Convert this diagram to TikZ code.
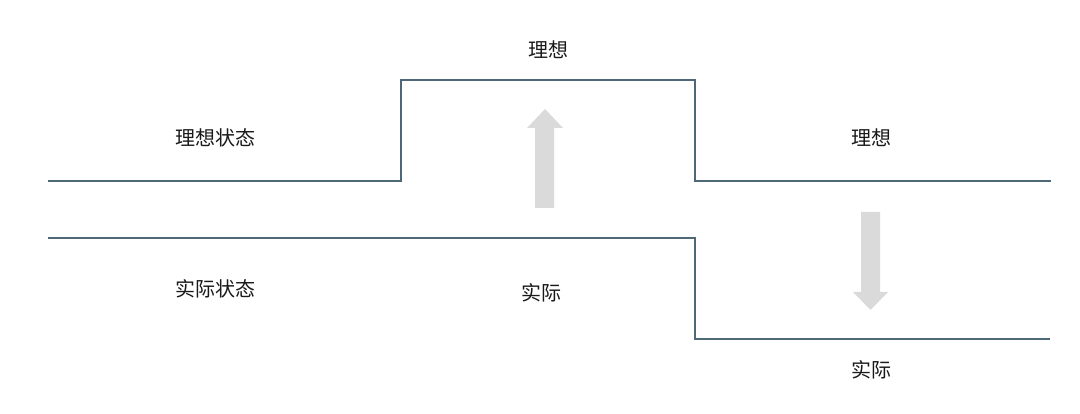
\documentclass[tikz,border=0pt]{standalone}
\usepackage{fontspec}
\newfontfamily\cjk{Noto Sans CJK SC}
\definecolor{linec}{RGB}{78,104,120}
\definecolor{arrowc}{RGB}{218,218,218}
\definecolor{textc}{RGB}{25,25,25}
\begin{document}
\begin{tikzpicture}[x=1pt,y=-1pt,
  lbl/.style={font=\cjk\fontsize{20}{22}\selectfont, text=textc, inner sep=0pt},
  level/.style={draw=linec, line width=2pt, line join=miter},
  bigarrow/.style={fill=arrowc, draw=none}]
\useasboundingbox (0,0) rectangle (1080,414);
% ideal line
\coordinate (i0) at (48,181);
\coordinate (i1) at (401,181);
\coordinate (i2) at (401,80);
\coordinate (i3) at (695,80);
\coordinate (i4) at (695,181);
\coordinate (i5) at (1051,181);
\draw[level] (i0) -- (i1) -- (i2) -- (i3) -- (i4) -- (i5);
% actual line
\coordinate (a0) at (48,238);
\coordinate (a1) at (695,238);
\coordinate (a2) at (695,339);
\coordinate (a3) at (1050,339);
\draw[level] (a0) -- (a1) -- (a2) -- (a3);
% arrows
\fill[bigarrow] (535,208) -- (535,128) -- (527,128) -- (545,109) -- (563,128) -- (554,128) -- (554,208) -- cycle;
\fill[bigarrow] (861,212) -- (861,292) -- (853,292) -- (870.5,310) -- (888,292) -- (880,292) -- (880,212) -- cycle;
% labels
\node[lbl] (t1) at (548,50) {理想};
\node[lbl] (t2) at (215,138) {理想状态};
\node[lbl] (t3) at (871,138) {理想};
\node[lbl] (t4) at (215,289) {实际状态};
\node[lbl] (t5) at (541,293) {实际};
\node[lbl] (t6) at (871,370) {实际};
\end{tikzpicture}
\end{document}
